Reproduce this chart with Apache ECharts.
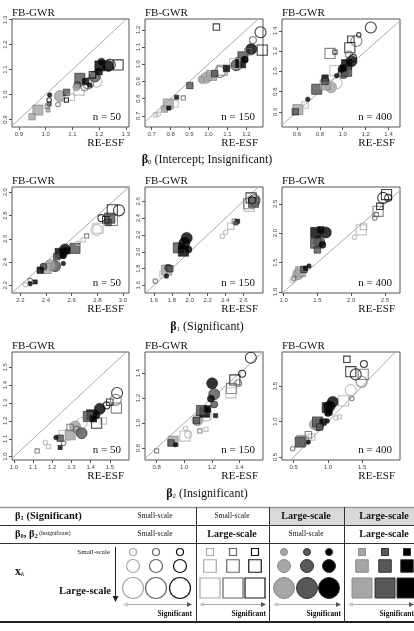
<!DOCTYPE html>
<html lang="en">
<head>
<meta charset="UTF-8">
<title>FB-GWR vs RE-ESF</title>
<script src="https://cdn.jsdelivr.net/npm/echarts@6/dist/echarts.min.js"></script>
<style>html,body{margin:0;background:#fff}#main{width:414px;height:631px}</style>
</head>
<body>
<div id="main"></div>
<script>
// each point: [RE-ESF, FB-GWR, kind]
// kind = shape (c circle / s square) + fill (o open / f filled) + shade (0 light..2 black) + size (0 small..2 large)
var b0n50 = [
  [1.271,1.119,'so22'],[1.234,1.115,'cf22'],[1.24,1.119,'co22'],[1.203,1.115,'sf22'],[1.2,1.092,'sf21'],
  [1.209,1.132,'cf21'],[1.19,1.052,'co02'],[1.184,1.072,'cf12'],[1.128,1.065,'sf12'],[1.15,1.052,'sf21'],
  [1.119,1.038,'cf11'],[1.146,1.029,'co11'],[1.125,1.018,'so02'],[1.159,1.045,'co12'],[1.053,0.994,'cf02'],
  [1.078,1.009,'sf11'],[1.078,0.978,'so20'],[1.059,0.985,'co01'],[1.013,0.978,'co20'],[1.013,0.962,'sf10'],
  [1.015,0.998,'cf20'],[1.046,0.960,'co10'],[0.971,0.938,'sf02'],[0.949,0.911,'sf01'],[1.009,0.938,'sf00'],
  [1.006,0.954,'so10'],[1.096,0.989,'so01'],[1.165,1.038,'sf20'],[1.115,1.029,'cf01'],[1.175,1.079,'so21']
];
var b0n150 = [
  [1.042,1.216,'so21'],[1.275,1.186,'co22'],[1.235,1.141,'co11'],[1.284,1.082,'so22'],[1.226,1.088,'cf22'],
  [1.191,1.027,'cf21'],[1.170,1.008,'sf22'],[1.182,1.043,'sf12'],[1.147,0.994,'cf12'],[1.139,1.004,'so02'],
  [1.095,0.975,'sf21'],[1.060,0.955,'co12'],[1.072,0.965,'so12'],[1.016,0.935,'sf02'],[0.989,0.922,'cf02'],
  [1.033,0.945,'sf11'],[0.972,0.906,'co01'],[0.902,0.876,'sf11'],[0.832,0.808,'sf20'],[0.867,0.804,'so10'],
  [0.788,0.769,'sf02'],[0.767,0.739,'sf01'],[0.823,0.769,'so01'],[0.791,0.745,'sf20'],[0.735,0.710,'co00'],
  [0.721,0.706,'so00'],[1.209,1.073,'so11'],[0.963,0.912,'cf01']
];
var b0n400 = [
  [1.245,1.433,'co22'],[1.140,1.360,'co20'],[1.071,1.317,'so21'],[1.120,1.300,'co12'],[1.062,1.233,'so22'],
  [0.889,1.177,'so12'],[0.932,1.190,'so20'],[1.054,1.167,'co11'],[1.077,1.100,'cf22'],[1.034,1.067,'sf22'],
  [1.005,1.033,'sf21'],[0.932,1.007,'so02'],[1.005,0.983,'cf12'],[1.034,1.000,'sf12'],[0.846,0.933,'sf21'],
  [0.846,0.900,'sf11'],[0.773,0.823,'sf12'],[0.846,0.867,'sf02'],[0.898,0.843,'cf02'],[0.947,0.883,'co02'],
  [0.947,0.957,'cf20'],[0.695,0.723,'cf20'],[0.672,0.667,'so01'],[0.609,0.623,'sf02'],[0.586,0.600,'sf11'],
  [0.990,1.023,'cf21'],[1.091,1.133,'co21']
];
var b1n50 = [
  [2.969,2.845,'co22'],[2.917,2.850,'so22'],[2.832,2.778,'co21'],[2.897,2.778,'sf12'],[2.884,2.740,'sf11'],
  [2.917,2.758,'so12'],[2.866,2.764,'so21'],[2.794,2.677,'co02'],[2.806,2.691,'so02'],[2.716,2.625,'so10'],
  [2.690,2.590,'so00'],[2.652,2.561,'co00'],[2.626,2.518,'sf12'],[2.548,2.509,'cf22'],[2.510,2.475,'sf22'],
  [2.535,2.460,'cf21'],[2.484,2.446,'sf11'],[2.535,2.388,'cf20'],[2.471,2.365,'cf12'],[2.401,2.345,'sf02'],
  [2.355,2.330,'sf21'],[2.432,2.373,'cf02'],[2.277,2.243,'co10'],[2.277,2.214,'cf20'],[2.316,2.229,'sf20'],
  [2.239,2.206,'co00'],[2.380,2.359,'cf11'],[2.561,2.498,'sf21']
];
var b1n150 = [
  [2.687,2.640,'so22'],[2.725,2.612,'co22'],[2.668,2.541,'so02'],[2.714,2.588,'sf12'],[2.660,2.572,'so12'],
  [2.698,2.612,'co21'],[2.460,2.304,'so01'],[2.498,2.363,'so10'],[2.536,2.363,'sf20'],[2.517,2.343,'sf10'],
  [2.365,2.185,'co00'],[2.403,2.232,'co00'],[1.967,2.165,'cf22'],[1.941,2.106,'cf22'],[1.873,2.047,'sf12'],
  [1.930,2.007,'sf22'],[1.986,2.027,'cf21'],[1.911,2.066,'sf21'],[1.740,1.782,'sf02'],[1.702,1.730,'so01'],
  [1.759,1.810,'cf11'],[1.740,1.711,'cf20'],[1.615,1.651,'co10'],[1.778,1.798,'sf11']
];
var b1n400 = [
  [2.525,2.657,'so22'],[2.475,2.600,'co22'],[2.550,2.600,'co21'],[2.425,2.457,'so21'],[2.400,2.371,'so12'],
  [2.350,2.257,'co10'],[2.375,2.314,'so10'],[2.150,2.057,'so02'],[2.185,2.114,'so01'],[2.050,1.931,'co00'],
  [1.475,2.011,'sf22'],[1.625,2.011,'cf22'],[1.550,2.057,'sf21'],[1.475,1.829,'sf12'],[1.575,1.800,'cf21'],
  [1.500,1.714,'sf11'],[1.250,1.343,'sf02'],[1.215,1.303,'cf02'],[1.300,1.383,'sf11'],[1.375,1.440,'cf20'],
  [1.325,1.400,'sf20'],[1.150,1.229,'co10'],[1.125,1.189,'so00'],[1.525,1.857,'cf12']
];
var b2n50 = [
  [1.538,1.356,'co22'],[1.531,1.318,'co12'],[1.483,1.287,'co21'],[1.500,1.305,'so21'],[1.534,1.272,'so12'],
  [1.431,1.187,'so22'],[1.448,1.268,'cf22'],[1.431,1.234,'cf21'],[1.405,1.234,'sf22'],[1.414,1.212,'sf21'],
  [1.388,1.225,'sf12'],[1.353,1.187,'co02'],[1.293,1.163,'so11'],[1.319,1.169,'cf02'],[1.353,1.131,'cf12'],
  [1.293,1.122,'sf02'],[1.241,1.103,'sf11'],[1.262,1.118,'so02'],[1.219,1.107,'cf20'],[1.241,1.051,'sf20'],
  [1.259,1.075,'co10'],[1.164,1.079,'co00'],[1.121,1.032,'so10'],[1.181,1.056,'so00'],[1.466,1.200,'so01'],
  [1.328,1.150,'co11']
];
var b2n150 = [
  [1.482,1.524,'co22'],[1.419,1.396,'co21'],[1.366,1.346,'so22'],[1.342,1.278,'so12'],[1.337,1.243,'so02'],
  [1.390,1.319,'co11'],[1.202,1.319,'cf22'],[1.217,1.232,'cf12'],[1.217,1.150,'cf11'],[1.193,1.196,'cf21'],
  [1.169,1.114,'sf21'],[1.149,1.087,'sf22'],[1.125,1.101,'sf12'],[1.227,1.060,'sf20'],[1.089,1.019,'sf11'],
  [1.096,1.024,'cf02'],[1.161,1.060,'co02'],[1.113,0.937,'so10'],[1.157,0.950,'so00'],[1.010,0.958,'co00'],
  [1.005,0.896,'so02'],[1.029,0.909,'co01'],[0.920,0.855,'sf02'],[0.937,0.827,'cf20'],[0.800,0.778,'so10'],
  [0.904,0.841,'sf11']
];
var b2n400 = [
  [1.276,1.877,'so21'],[1.524,1.811,'co21'],[1.333,1.703,'so22'],[1.514,1.665,'so12'],[1.405,1.665,'co22'],
  [1.490,1.561,'co12'],[1.333,1.443,'co02'],[1.348,1.325,'co10'],[1.229,1.292,'so02'],[1.071,1.278,'cf22'],
  [1.024,1.217,'cf22'],[0.990,1.198,'sf22'],[1.014,1.137,'sf21'],[1.000,1.123,'cf21'],[1.119,1.052,'co00'],
  [1.167,1.066,'so00'],[0.929,0.995,'sf21'],[0.848,0.995,'sf12'],[0.857,0.948,'cf12'],[0.881,0.925,'sf11'],
  [0.990,1.009,'cf20'],[0.762,0.783,'so01'],[0.714,0.816,'so11'],[0.619,0.736,'sf02'],[0.595,0.712,'sf12'],
  [0.714,0.712,'cf20'],[0.486,0.618,'co10'],[0.810,0.962,'cf02']
];

// axis ranges [x min, x max, y min, y max] and tick labels
var rng = [
  [0.874,1.312,0.870,1.303],[0.665,1.288,0.635,1.263],[0.47,1.50,0.45,1.517],
  [2.135,3.047,2.134,3.046],[1.50,2.82,1.51,2.77],[0.975,2.725,0.98,2.786],
  [0.99,1.60,0.981,1.586],[0.716,1.57,0.704,1.57],[0.33,2.05,0.46,1.98]
];
var tkB0n50 = [0.9,1.0,1.1,1.2,1.3];
var tkB0n150 = [0.7,0.8,0.9,1.0,1.1,1.2];
var tkB0n400 = [0.6,0.8,1.0,1.2,1.4];
var tkB1n50 = [2.2,2.4,2.6,2.8,3.0];
var tkB1n150 = [1.6,1.8,2.0,2.2,2.4,2.6];
var tkB1n400 = [1.0,1.5,2.0,2.5];
var tkB2n50 = [1.0,1.1,1.2,1.3,1.4,1.5];
var tkB2n150 = [0.8,1.0,1.2,1.4];
var tkB2n400 = [0.5,1.0,1.5];
var sampleSizes = [50, 150, 400];

var panelPts = [b0n50, b0n150, b0n400, b1n50, b1n150, b1n400, b2n50, b2n150, b2n400];
var panelTicks = [tkB0n50, tkB0n150, tkB0n400, tkB1n50, tkB1n150, tkB1n400, tkB2n50, tkB2n150, tkB2n400];

var colHead1 = ['Small-scale', 'Small-scale', 'Large-scale', 'Large-scale'];
var colHead2 = ['Small-scale', 'Large-scale', 'Small-scale', 'Large-scale'];

// layout
var serif = '"Liberation Serif", "DejaVu Serif", serif';
var gLeft = [12, 145, 282], gW = [117, 118, 118];
var gTop = [19, 187, 352], gH = [108, 106, 108];
var openCol = ['#b0b0b0', '#666', '#111'];
var fillCol = ['#a4a4a4', '#555', '#000'];
var symSize = [4.5, 7, 11];

function toItem(p) {
  var k = p[2], sh = +k[2], sz = +k[3];
  var sq = k[0] === 's';
  var hollow = k[1] === 'o';
  return {
    value: [p[0], p[1]],
    symbol: sq ? 'rect' : 'circle',
    symbolSize: sq ? symSize[sz] * 0.92 : symSize[sz],
    itemStyle: hollow
      ? {color: 'rgba(255,255,255,0)', borderColor: openCol[sh], borderWidth: 1.1}
      : {color: fillCol[sh], borderColor: sh === 0 ? '#777' : '#111', borderWidth: 0.7}
  };
}

var grids = [], xAxes = [], yAxes = [], series = [], gfx = [];
function fmt(v) { return v.toFixed(1); }

panelPts.forEach(function (pts, i) {
  var c = i % 3, r = Math.floor(i / 3), tk = panelTicks[i], rg = rng[i];
  grids.push({left: gLeft[c], top: gTop[r], width: gW[c], height: gH[r], show: true,
    borderColor: '#555', borderWidth: 1, backgroundColor: 'transparent'});
  var ax = function (min, max, isY) {
    return {gridIndex: i, type: 'value', min: min, max: max,
      splitLine: {show: false}, axisLine: {show: false},
      axisTick: {show: true, inside: false, length: 3, customValues: tk, lineStyle: {color: '#555'}},
      axisLabel: {customValues: tk, formatter: fmt, fontSize: 6, color: '#444', margin: 4,
        rotate: isY ? 90 : 0, fontFamily: 'Liberation Sans'}};
  };
  xAxes.push(ax(rg[0], rg[1], false));
  yAxes.push(ax(rg[2], rg[3], true));
  series.push({type: 'line', xAxisIndex: i, yAxisIndex: i, data: [[0, 0], [4, 4]], clip: true,
    symbol: 'none', silent: true, lineStyle: {color: '#ababab', width: 1}, z: 1});
  var items = pts.map(toItem).sort(function (a, b) { return b.symbolSize - a.symbolSize; });
  series.push({type: 'scatter', xAxisIndex: i, yAxisIndex: i, data: items, silent: true, z: 2});

  var right = gLeft[c] + gW[c], bottom = gTop[r] + gH[r];
  gfx.push(txt(gLeft[c], gTop[r] - 6, 'FB-GWR', 11, 'left'));
  gfx.push(txt(right - 5, bottom + 16, 'RE-ESF', 11, 'right'));
  gfx.push(txt(right - 8, bottom - 10, 'n = ' + sampleSizes[c], 11, 'right'));
});

function txt(x, y, s, size, align, weight, rich) {
  return {type: 'text', x: x, y: y, silent: true, z: 10,
    style: {text: s, fill: '#111', fontSize: size, fontFamily: serif, fontWeight: weight || 'normal',
      align: align || 'left', verticalAlign: 'middle', rich: rich}};
}
function line(x1, y1, x2, y2, col, w) {
  return {type: 'line', silent: true, z: 5, shape: {x1: x1, y1: y1, x2: x2, y2: y2},
    style: {stroke: col, lineWidth: w}};
}
function tri(pts, col) {
  return {type: 'polygon', silent: true, z: 6, shape: {points: pts}, style: {fill: col}};
}

// section captions
var capRich = {
  b: {fontSize: 12, fontWeight: 'bold', fontFamily: serif},
  s: {fontSize: 7, fontFamily: serif, verticalAlign: 'bottom'},
  t: {fontSize: 12, fontFamily: serif}
};
gfx.push(txt(207, 160, '{b|β}{s|0}{t| (Intercept; Insignificant)}', 12, 'center', 'normal', capRich));
gfx.push(txt(207, 327, '{b|β}{s|1}{t| (Significant)}', 12, 'center', 'normal', capRich));
gfx.push(txt(207, 494, '{b|β}{s|2}{t| (Insignificant)}', 12, 'center', 'normal', capRich));

// key table
gfx.push({type: 'rect', silent: true, z: 4, shape: {x: 269, y: 508, width: 145, height: 17}, style: {fill: '#d9d9d9'}});
gfx.push(line(0, 507.5, 414, 507.5, '#999', 1.5));
gfx.push(line(0, 525.5, 414, 525.5, '#333', 1));
gfx.push(line(0, 543.5, 414, 543.5, '#333', 1));
gfx.push(line(0, 622, 414, 622, '#222', 1.8));
[196.5, 269.5, 344.5].forEach(function (x) { gfx.push(line(x, 507, x, 622, '#333', 1)); });

var rowRich = {
  b: {fontSize: 10.5, fontWeight: 'bold', fontFamily: serif},
  s: {fontSize: 6.5, fontWeight: 'bold', fontFamily: serif, verticalAlign: 'bottom'},
  u: {fontSize: 5.5, fontFamily: serif}
};
gfx.push(txt(15, 516, '{b|β}{s|1}{b| (Significant)}', 10, 'left', 'normal', rowRich));
gfx.push(txt(15, 534, '{b|β}{s|0}{b|, β}{s|2}{u| (Insignificant)}', 10, 'left', 'normal', rowRich));

var colMid = [155, 232, 306, 384];
colHead1.forEach(function (s, j) {
  var big = s === 'Large-scale' && j > 1;
  gfx.push(txt(colMid[j], 516.5, s, big ? 10 : 7.5, 'center', big ? 'bold' : 'normal'));
});
colHead2.forEach(function (s, j) {
  var big = s === 'Large-scale';
  gfx.push(txt(colMid[j], 534.5, s, big ? 10 : 7.5, 'center', big ? 'bold' : 'normal'));
});

gfx.push(txt(110, 552, 'Small-scale', 7, 'right'));
gfx.push(txt(111, 591, 'Large-scale', 10.5, 'right', 'bold'));
gfx.push(txt(15, 572, '{x|x}{k|k}', 12, 'left', 'normal', {
  x: {fontSize: 12, fontWeight: 'bold', fontFamily: serif},
  k: {fontSize: 7, fontStyle: 'italic', fontFamily: serif, verticalAlign: 'bottom'}
}));
gfx.push(line(115.5, 547, 115.5, 597, '#222', 1));
gfx.push(tri([[112.5, 596], [118.5, 596], [115.5, 602]], '#222'));

// key symbols
var keyX = [[133, 156, 180], [210, 233, 255], [284, 307, 329], [362, 385, 407]];
var keyY = [552, 566, 588];
var keyCirc = [7, 13, 21], keySq = [7, 12.5, 20];
var keyOpen = ['#a8a8a8', '#666', '#111'], keyFill = ['#a6a6a6', '#585858', '#000'];
keyX.forEach(function (xs, g) {
  xs.forEach(function (x, s) {
    keyY.forEach(function (y, z) {
      var hollow = g < 2;
      var st = hollow ? {fill: 'none', stroke: keyOpen[s], lineWidth: 1.2}
                      : {fill: keyFill[s], stroke: s === 0 ? '#8a8a8a' : '#333', lineWidth: 1};
      if (g % 2 === 0) {
        gfx.push({type: 'circle', silent: true, z: 6, shape: {cx: x, cy: y, r: keyCirc[z] / 2}, style: st});
      } else {
        var h = keySq[z];
        gfx.push({type: 'rect', silent: true, z: 6, shape: {x: x - h / 2, y: y - h / 2, width: h, height: h}, style: st});
      }
    });
  });
});

// significance arrows
var arrowSpan = [[123, 192], [199, 266], [273, 341], [348, 414]];
arrowSpan.forEach(function (a) {
  gfx.push(line(a[0] + 3, 604.5, a[1] - 3, 604.5, '#aaa', 1));
  gfx.push(tri([[a[0], 604.5], [a[0] + 5, 602], [a[0] + 5, 607]], '#c8c8c8'));
  gfx.push(tri([[a[1], 604.5], [a[1] - 5, 602], [a[1] - 5, 607]], '#555'));
  gfx.push(txt(a[1], 614, 'Significant', 7.5, 'right', 'bold'));
});

var chart = echarts.init(document.getElementById('main'), null, {renderer: 'canvas'});
chart.setOption({
  backgroundColor: '#fff',
  animation: false,
  grid: grids,
  xAxis: xAxes,
  yAxis: yAxes,
  series: series,
  graphic: {elements: gfx}
});
</script>
</body>
</html>
